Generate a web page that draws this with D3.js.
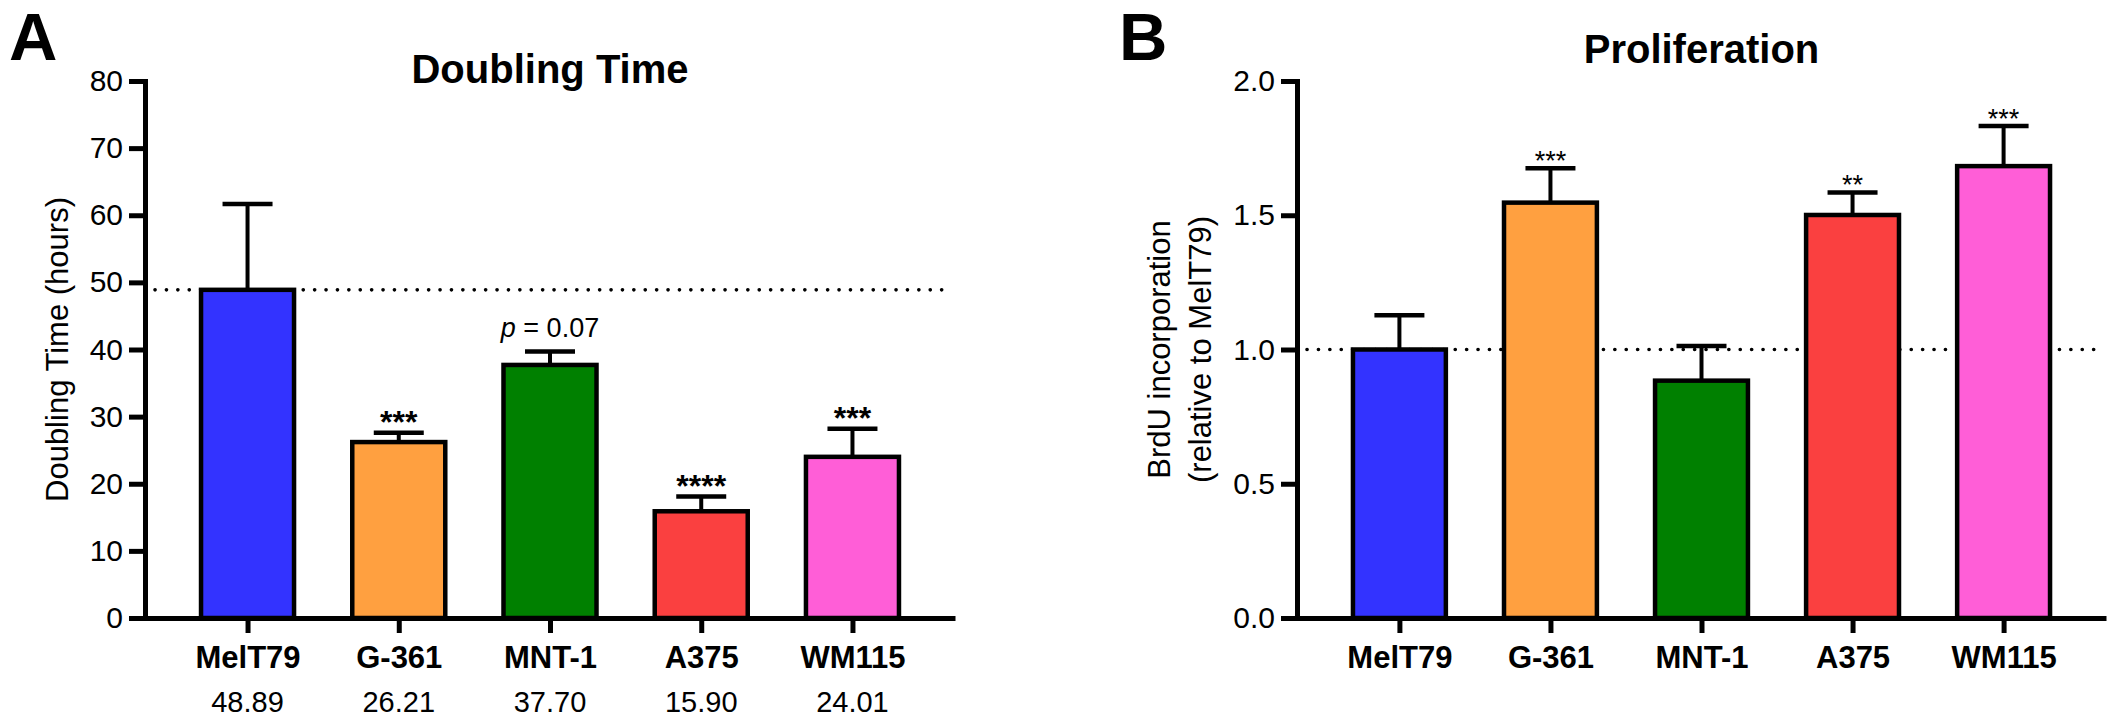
<!DOCTYPE html>
<html>
<head>
<meta charset="utf-8">
<script src="https://cdn.jsdelivr.net/npm/d3@7"></script>
<style>
  html, body { margin: 0; padding: 0; background: #fff; }
  svg { display: block; font-family: "Liberation Sans", Arial, Helvetica, sans-serif; }
</style>
</head>
<body>
<svg id="chart" width="2115" height="720"></svg>
<script>
// ---------- data ----------
const cellLines = ["MelT79", "G-361", "MNT-1", "A375", "WM115"];
const barColors = ["#3333FF", "#FFA040", "#008000", "#FA4040", "#FF5ED7"];

const doublingMean = [48.89, 26.21, 37.70, 15.90, 24.01];
const doublingErr  = [12.8, 1.4, 2.0, 2.2, 4.2];
const doublingSig  = ["", "***", "", "****", "***"];
const doublingValueLabels = ["48.89", "26.21", "37.70", "15.90", "24.01"];
const doublingTicks = [0, 10, 20, 30, 40, 50, 60, 70, 80];

const prolifMean = [1.00, 1.547, 0.884, 1.501, 1.683];
const prolifErr  = [0.128, 0.128, 0.129, 0.084, 0.149];
const prolifSig  = ["", "***", "", "**", "***"];
const prolifTicks = [0.0, 0.5, 1.0, 1.5, 2.0];

// ---------- drawing ----------
const svg = d3.select("#chart");
svg.append("rect").attr("width", 2115).attr("height", 720).attr("fill", "#fff");

function panel(opts) {
  const g = svg.append("g");
  const x = d3.scalePoint().domain(cellLines).range(opts.xRange).padding(0.678);
  const y = d3.scaleLinear().domain(opts.yDomain).range([618, 81]);
  const barW = x.step() * 0.615;

  // reference dotted line
  g.append("line")
    .attr("x1", opts.xRange[0] + 10).attr("x2", opts.xRange[1] - 4)
    .attr("y1", y(opts.refValue)).attr("y2", y(opts.refValue))
    .attr("stroke", "#000").attr("stroke-width", 3.6)
    .attr("stroke-linecap", "round")
    .attr("stroke-dasharray", "0.1 11.3");

  // error bars
  const data = cellLines.map((c, i) => ({c, i, m: opts.mean[i], e: opts.err[i]}));
  g.selectAll(".ebar").data(data).join("line")
    .attr("x1", d => x(d.c)).attr("x2", d => x(d.c))
    .attr("y1", d => y(d.m)).attr("y2", d => y(d.m + d.e))
    .attr("stroke", "#000").attr("stroke-width", 4);
  g.selectAll(".ecap").data(data).join("line")
    .attr("x1", d => x(d.c) - 25).attr("x2", d => x(d.c) + 25)
    .attr("y1", d => y(d.m + d.e)).attr("y2", d => y(d.m + d.e))
    .attr("stroke", "#000").attr("stroke-width", 4.5);

  // bars
  g.selectAll(".bar").data(data).join("rect")
    .attr("x", d => x(d.c) - barW / 2)
    .attr("width", barW)
    .attr("y", d => y(d.m))
    .attr("height", d => y(0) - y(d.m))
    .attr("fill", d => barColors[d.i])
    .attr("stroke", "#000").attr("stroke-width", 4.5);

  // significance stars
  g.selectAll(".sig").data(data).join("text")
    .attr("x", d => x(d.c))
    .attr("y", d => y(d.m + d.e) + opts.sigDy)
    .attr("text-anchor", "middle")
    .attr("font-size", opts.sigSize)
    .attr("font-weight", opts.sigWeight)
    .text(d => opts.sig[d.i]);

  // y axis
  const yAxis = g.append("g").attr("transform", `translate(${opts.xRange[0]},0)`)
    .call(d3.axisLeft(y).tickValues(opts.ticks).tickFormat(opts.fmt)
      .tickSize(16).tickPadding(6).tickSizeOuter(0));
  yAxis.select(".domain").attr("stroke-width", 5).attr("stroke-linecap", "square");
  yAxis.selectAll(".tick line").attr("stroke-width", 5);
  yAxis.selectAll(".tick text").attr("font-size", 30).attr("font-family", null).attr("fill", "#000");

  // x axis
  const xAxis = g.append("g").attr("transform", `translate(0,${y(0)})`)
    .call(d3.axisBottom(x).tickSize(15).tickSizeOuter(0));
  xAxis.select(".domain").attr("stroke-width", 5);
  xAxis.selectAll(".tick line").attr("stroke-width", 5);
  xAxis.selectAll(".tick text")
    .attr("y", 50).attr("dy", 0)
    .attr("font-size", 31).attr("font-weight", "bold")
    .attr("font-family", null).attr("fill", "#000");

  // title
  g.append("text")
    .attr("x", (opts.xRange[0] + opts.xRange[1]) / 2)
    .attr("y", opts.titleY)
    .attr("text-anchor", "middle")
    .attr("font-size", 40).attr("font-weight", "bold")
    .text(opts.title);

  // panel letter
  g.append("text")
    .attr("x", opts.letterX).attr("y", 60)
    .attr("font-size", 67).attr("font-weight", "bold")
    .text(opts.letter);

  return {g, x, y};
}

// Panel A
const A = panel({
  xRange: [145, 955], yDomain: [0, 80], ticks: doublingTicks, fmt: d3.format("d"),
  mean: doublingMean, err: doublingErr, sig: doublingSig,
  refValue: doublingMean[0], sigDy: 0, sigSize: 32, sigWeight: "bold",
  title: "Doubling Time", titleY: 83, letter: "A", letterX: 9
});
// y title A
A.g.append("text")
  .attr("transform", `translate(68,${(A.y.range()[0] + A.y.range()[1]) / 2}) rotate(-90)`)
  .attr("text-anchor", "middle").attr("font-size", 31)
  .text("Doubling Time (hours)");
// values under labels
A.g.selectAll(".val").data(cellLines).join("text")
  .attr("x", d => A.x(d)).attr("y", 712)
  .attr("text-anchor", "middle").attr("font-size", 29)
  .text((d, i) => doublingValueLabels[i]);
// p value label
const pt = A.g.append("text")
  .attr("x", A.x("MNT-1")).attr("y", A.y(doublingMean[2] + doublingErr[2]) - 15)
  .attr("text-anchor", "middle").attr("font-size", 27);
pt.append("tspan").attr("font-style", "italic").text("p");
pt.append("tspan").text(" = 0.07");

// Panel B
const B = panel({
  xRange: [1297, 2106], yDomain: [0, 2], ticks: prolifTicks, fmt: d3.format(".1f"),
  mean: prolifMean, err: prolifErr, sig: prolifSig,
  refValue: 1.0, sigDy: 2, sigSize: 27, sigWeight: "normal",
  title: "Proliferation", titleY: 63, letter: "B", letterX: 1119
});
const yt = B.g.append("text")
  .attr("transform", `translate(1170,${(B.y.range()[0] + B.y.range()[1]) / 2}) rotate(-90)`)
  .attr("text-anchor", "middle").attr("font-size", 31);
yt.append("tspan").attr("x", 0).attr("y", 0).text("BrdU incorporation");
yt.append("tspan").attr("x", 0).attr("y", 41).text("(relative to MelT79)");
</script>
</body>
</html>
